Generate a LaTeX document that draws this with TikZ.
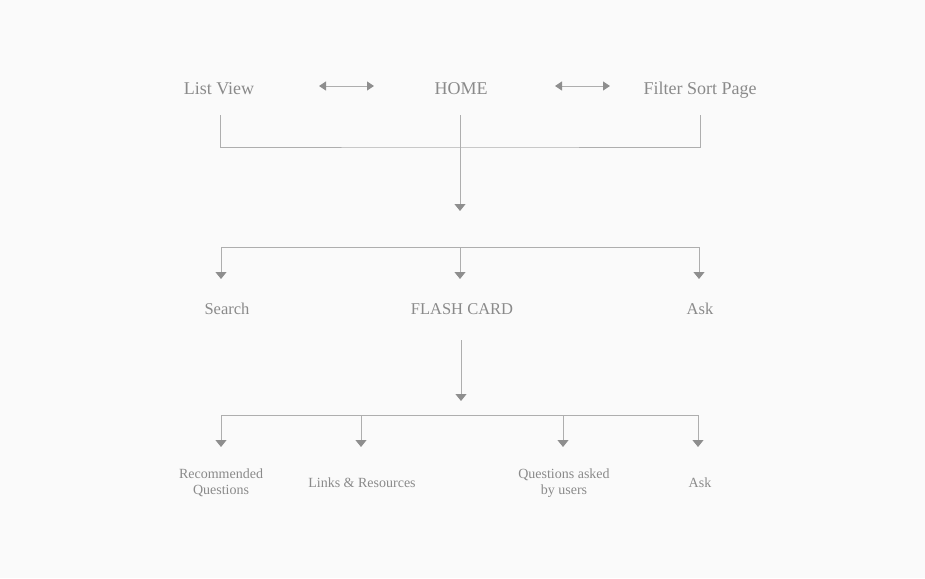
\documentclass[tikz,border=0pt]{standalone}
\usepackage{fontspec}
\setmainfont{Liberation Serif}
\usetikzlibrary{arrows.meta, calc}
\definecolor{txtgray}{HTML}{8A8A8A}
\definecolor{linegray}{HTML}{AEAEAE}
\definecolor{tipgray}{HTML}{8E8E8E}
\definecolor{bggray}{HTML}{FAFAFA}

\begin{document}
\begin{tikzpicture}[
  x=1pt, y=-1pt,
  toplabel/.style = {font=\fontsize{18}{20}\selectfont, text=txtgray, inner sep=0pt, anchor=base},
  midlabel/.style = {font=\fontsize{16.5}{19}\selectfont, text=txtgray, inner sep=0pt, anchor=base},
  leaf/.style     = {font=\fontsize{14}{16}\selectfont, text=txtgray, inner sep=0pt, align=center},
  line/.style     = {linegray, line width=1pt},
  arrow/.style    = {line, -{Triangle[width=11pt, length=7pt, color=tipgray]}},
  both/.style     = {line, {Triangle[width=9pt, length=7pt, color=tipgray]}-{Triangle[width=9pt, length=7pt, color=tipgray]}}
]

  % background, fixes the page size
  \fill[bggray] (0,0) rectangle (925,578);

  % top row
  \node[toplabel] (list) at (219,94) {List View};
  \node[toplabel] (home) at (461,94) {HOME};
  \node[toplabel] (filter) at (700,94) {Filter Sort Page};

  % two-way links between the top pages
  \draw[both] ([xshift=100pt,yshift=8pt]list.base) -- ([xshift=-87pt,yshift=8pt]home.base);
  \draw[both] ([xshift=94pt,yshift=8pt]home.base) -- ([xshift=-90pt,yshift=8pt]filter.base);

  % bracket under the top row
  \coordinate (topbar) at (460,147);
  \draw[line] ([xshift=1pt,yshift=-21pt]list.base) |- (topbar) -| ([yshift=-21pt]filter.base);

  % HOME down to the second row
  \coordinate (hometip) at (460,211);
  \draw[arrow] ([xshift=-1pt,yshift=-21pt]home.base) -- (hometip);

  % second row
  \node[midlabel] (search) at (227,314) {Search};
  \node[midlabel] (flash) at (462,314) {FLASH CARD};
  \node[midlabel] (ask) at (700,314) {Ask};

  \coordinate (midbar) at (460,247);
  \draw[line] ([xshift=-6pt]search.north |- midbar) -- ([xshift=-1pt]ask.north |- midbar);
  \foreach \nd/\dx in {search/-6, flash/-2, ask/-1}
    \draw[arrow] ([xshift=\dx pt]\nd.north |- midbar) -- ++(0,32);

  % FLASH CARD down to the third row
  \coordinate (flashtip) at (461,401);
  \draw[arrow] ([xshift=-1pt,yshift=-26pt]flash.base) -- (flashtip);

  % third row
  \node[leaf] (recq) at (221,483) {Recommended\\Questions};
  \node[leaf] (links) at (362,483) {Links \& Resources};
  \node[leaf] (quser) at (564,483) {Questions asked\\by users};
  \node[leaf] (ask2) at (700,483) {Ask};

  \coordinate (lowbar) at (460,415);
  \draw[line] (recq.center |- lowbar) -- ([xshift=-2pt]ask2.center |- lowbar);
  \foreach \nd/\dx in {recq/0, links/-1, quser/-1, ask2/-2}
    \draw[arrow] ([xshift=\dx pt]\nd.center |- lowbar) -- ++(0,32);

\end{tikzpicture}
\end{document}
